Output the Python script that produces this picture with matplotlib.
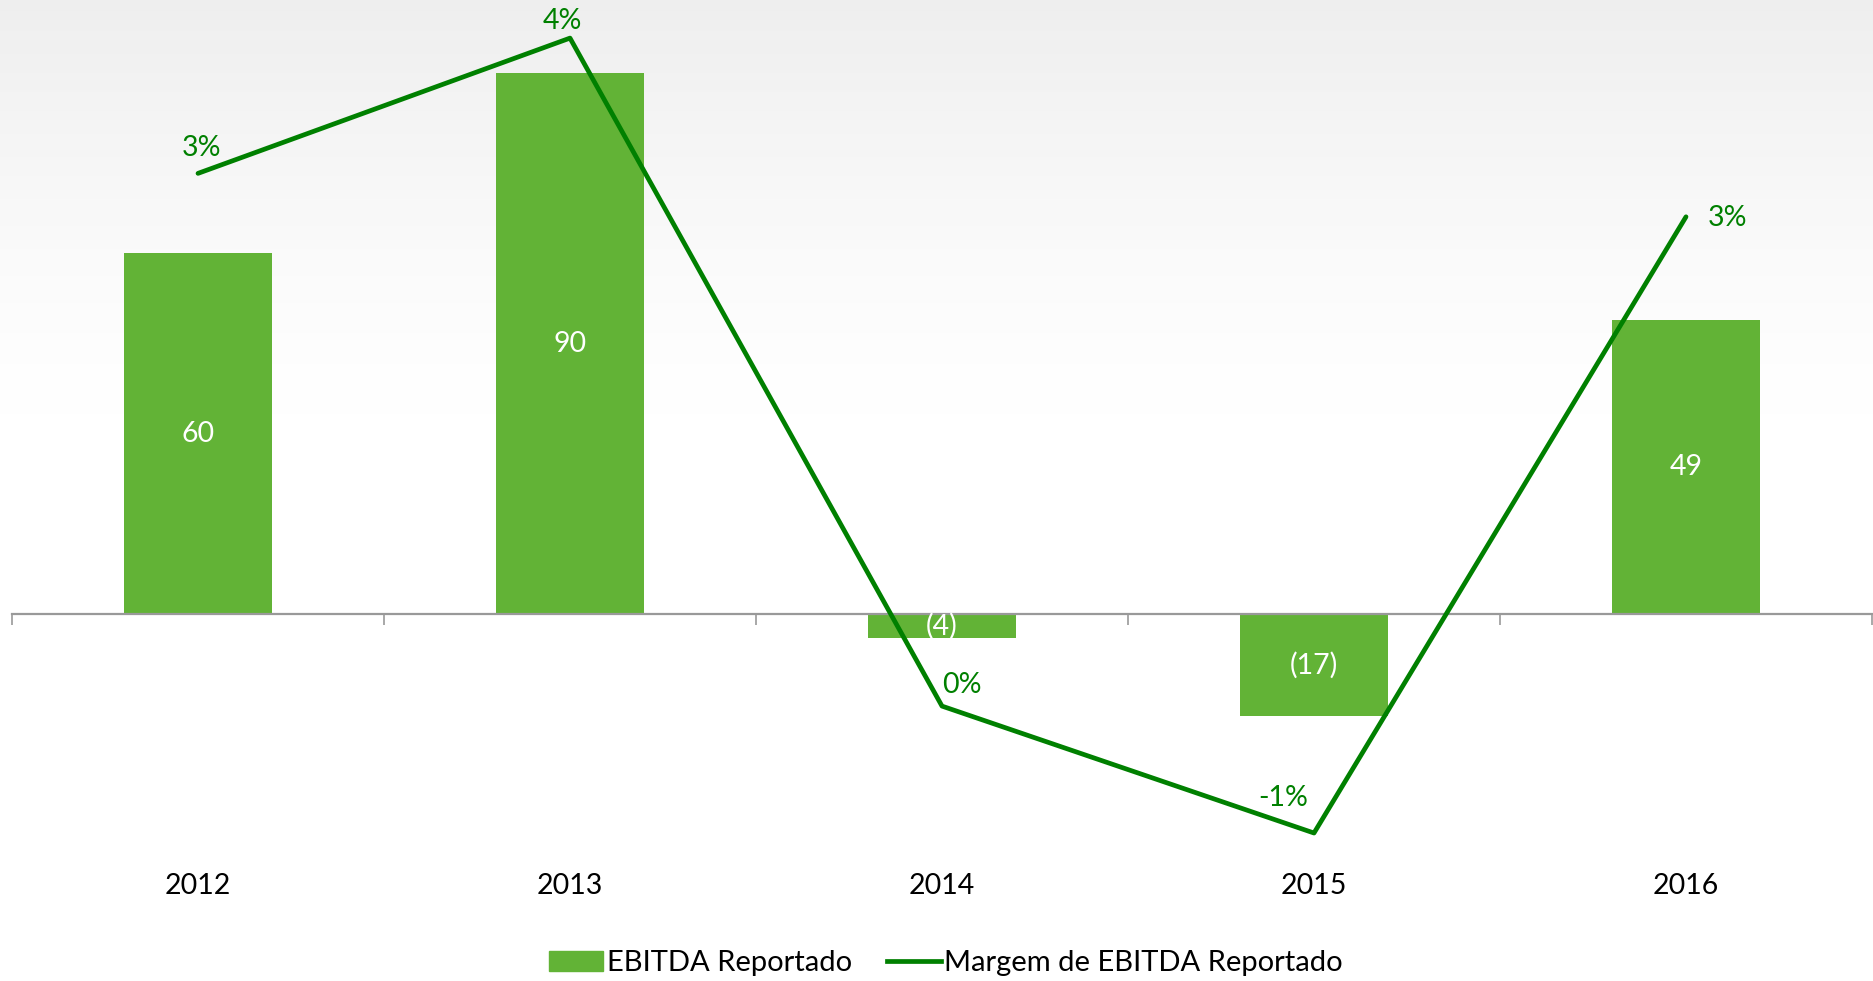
import matplotlib
matplotlib.use("Agg")
import matplotlib.pyplot as plt
import matplotlib.transforms as mtransforms
from matplotlib.patches import Patch
from matplotlib.lines import Line2D
import numpy as np

# data
years = ["2012", "2013", "2014", "2015", "2016"]
ebitda = [60, 90, -4, -17, 49]
margem = [2.89, 3.70, -0.30, -1.06, 2.63]   # % (labels are rounded)

BAR = "#62B336"
LINE = "#008000"
AXIS = "#999999"
FS = 20.5

plt.rcParams["font.family"] = ["Lato", "DejaVu Sans"]
plt.rcParams["font.size"] = FS

W, H = 1874, 981
fig = plt.figure(figsize=(W / 100, H / 100), dpi=100)

# soft grey gradient behind the chart
bg = fig.add_axes([0, 0, 1, 1], zorder=-10)
grad = np.linspace(0, 1, 256)
shade = np.clip(1 - grad / 0.42, 0, 1) ** 1.3
g = np.repeat((1 - 0.065 * shade)[:, None], 2, axis=1)
bg.imshow(np.dstack([g, g, g]), aspect="auto", extent=[0, 1, 0, 1])
bg.axis("off")

# plot box in pixels: top 0, bottom 900
left, right = 12 / W, 1872 / W
bottom, top = (H - 900) / H, 1.0
ax = fig.add_axes([left, bottom, right - left, top - bottom])
ax.set_facecolor("none")

x = np.arange(len(years))
ax.bar(x, ebitda, width=0.4, color=BAR, zorder=2)
ax.set_xlim(-0.5, len(years) - 0.5)
px_per_unit = 6.01
ax.set_ylim(-(900 - 614) / px_per_unit, 614 / px_per_unit)

for s in ["top", "left", "right"]:
    ax.spines[s].set_visible(False)
ax.spines["bottom"].set_position(("data", 0))
ax.spines["bottom"].set_color(AXIS)
ax.spines["bottom"].set_linewidth(1.6)
ax.set_yticks([])
ax.set_xticks(np.arange(-0.5, len(years), 1.0))
ax.set_xticklabels([])
ax.tick_params(axis="x", direction="out", length=8, width=1.2, color=AXIS)

for xi, v in zip(x, ebitda):
    lab = f"({abs(v)})" if v < 0 else f"{v}"
    ax.text(xi, v / 2, lab, ha="center", va="center", color="white",
            fontsize=FS, zorder=5)

# year labels sit low, below the plot
tr = mtransforms.blended_transform_factory(ax.transData, fig.transFigure)
for xi, yr in zip(x, years):
    ax.text(xi, 1 - 886 / H, yr, transform=tr, ha="center", va="center",
            fontsize=FS, color="black")

# secondary axis for the margin line
ax2 = ax.twinx()
ax2.set_facecolor("none")
k = 167.0
c = 656.0
ax2.set_ylim((c - 900) / k, c / k)
ax2.axis("off")
ax2.plot(x, margem, color=LINE, lw=3.4, solid_capstyle="round", zorder=3)

offs = [(4, 25), (-8, 17), (20, 21), (-31, 35), (42, -1)]
for xi, m, (dx, dy) in zip(x, margem, offs):
    ax2.annotate(f"{round(m):d}%", (xi, m), xytext=(dx, dy),
                 textcoords="offset pixels", ha="center", va="center",
                 color=LINE, fontsize=FS)

handles = [Patch(color=BAR, label="EBITDA Reportado"),
           Line2D([0], [0], color=LINE, lw=3.4, label="Margem de EBITDA Reportado")]
fig.legend(handles=handles, loc="center", bbox_to_anchor=(946 / W, 1 - 963 / H),
           ncol=2, frameon=False, handlelength=1.85, handletextpad=0.12,
           columnspacing=1.2, fontsize=21)

fig.savefig("out.png", dpi=100)
